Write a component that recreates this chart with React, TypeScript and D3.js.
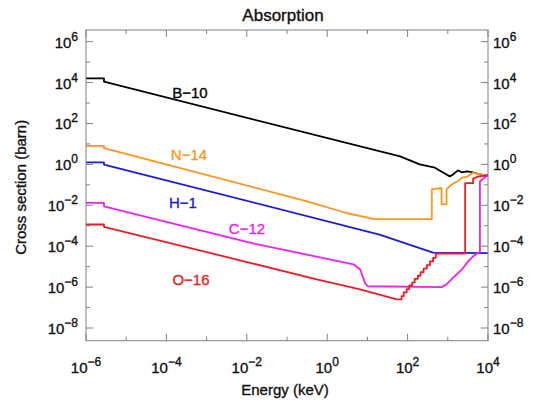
import React, { useEffect, useRef } from "react";
import * as d3 from "d3";

/** Absorption cross sections, [energy keV, sigma barn]. */
const boron10 = [
  [1e-6, 1.6e4], [2.8e-6, 1.6e4], [2.8e-6, 1.1e4], [65, 2.45], [200, 1.0],
  [480, 0.69], [760, 0.4], [1120, 0.26], [1350, 0.32], [1780, 0.51],
  [2240, 0.41], [3000, 0.46], [4270, 0.41], [6300, 0.32], [1e4, 0.27],
];
const nitrogen14 = [
  [1e-6, 8.1], [2.8e-6, 8.1], [2.8e-6, 6.3], [0.3, 1.6e-2], [3, 4.2e-3],
  [15, 2.1e-3], [400, 2.1e-3], [400, 6e-2], [700, 7e-2], [700, 1.1e-2],
  [930, 1.1e-2], [930, 6e-2], [1120, 8.7e-2], [1500, 0.13], [1780, 0.15],
  [2240, 0.22], [3160, 0.26], [4270, 0.4], [6300, 0.32], [1e4, 0.28],
];
const hydrogen1 = [
  [1e-6, 1.26], [2.8e-6, 1.26], [2.8e-6, 0.98], [20, 3.7e-4], [430, 4.8e-5],
  [1e4, 4.6e-5],
];
const carbon12 = [
  [1e-6, 1.32e-2], [2.8e-6, 1.32e-2], [2.8e-6, 8.9e-3], [1.2e-2, 1.48e-4],
  [4.5, 1.3e-5], [6.6, 7.4e-6], [8.7, 1.6e-6], [10.2, 1.1e-6], [700, 1e-6],
  [930, 1.35e-6], [1500, 3.5e-6], [2240, 7.2e-6], [3240, 1.86e-5],
  [4270, 3.2e-5], [5750, 4.8e-5], [6300, 5e-5], [6300, 0.15], [1e4, 0.3],
];
const oxygen16 = [
  [1e-6, 1.15e-3], [2.8e-6, 1.15e-3], [2.8e-6, 8.9e-4], [1.2e-2, 1.55e-5],
  [0.55, 2.4e-6], [6.6, 7.8e-7], [54, 2.5e-7], [71, 2.5e-7], [71, 3.6e-7],
  [80, 3.6e-7], [80, 5.5e-7], [95, 5.5e-7], [95, 8e-7], [110, 8e-7],
  [110, 1.2e-6], [130, 1.2e-6], [130, 1.7e-6], [150, 1.7e-6], [150, 2.5e-6],
  [180, 2.5e-6], [180, 3.6e-6], [210, 3.6e-6], [210, 5.4e-6], [250, 5.4e-6],
  [250, 8e-6], [300, 8e-6], [300, 1.2e-5], [360, 1.2e-5], [360, 1.8e-5],
  [430, 1.8e-5], [430, 2.7e-5], [500, 2.7e-5], [500, 4.4e-5], [2700, 4.4e-5],
  [2700, 0.12], [4270, 0.12], [4270, 0.2], [5600, 0.25], [1e4, 0.3],
];

const seriesNames = ["B−10", "N−14", "H−1", "C−12", "O−16"];
const seriesData = [boron10, nitrogen14, hydrogen1, carbon12, oxygen16];

/** Axis decades (exponents of ten). */
const xLabelExps = [-6, -4, -2, 0, 2, 4];
const yLabelExps = [6, 4, 2, 0, -2, -4, -6, -8];
const xDomain = [1e-6, 1e4];
const yDomain = [Math.pow(10, -8.62), Math.pow(10, 6.57)];

/** Style variables. */
const colors = ["#000000", "#ff951c", "#1a1ae6", "#ee22ee", "#ee1c24"];
const labelSpots = [
  [190, 98],
  [189, 160],
  [183, 208],
  [247, 234],
  [191, 285],
];
const fontFamily = "'Liberation Sans', Arial, Helvetica, sans-serif";

function drawChart(node) {
  const svg = d3.select(node);
  svg.selectAll("*").remove();

  const left = 86,
    right = 488,
    top = 30,
    bottom = 340.7;

  const x = d3.scaleLog().domain(xDomain).range([left, right]);
  const y = d3.scaleLog().domain(yDomain).range([bottom, top]);

  svg.append("rect").attr("width", 534).attr("height", 405).attr("fill", "#fff");

  // Clip the curves to the frame
  svg
    .append("clipPath")
    .attr("id", "plot-clip")
    .append("rect")
    .attr("x", left)
    .attr("y", top)
    .attr("width", right - left)
    .attr("height", bottom - top);

  const frameColor = "#808080";

  // Ticks on all four sides, pointing inwards
  const ticks = svg.append("g").attr("stroke", frameColor).attr("stroke-width", 1);
  d3.range(-6, 5).forEach((e) => {
    const px = x(Math.pow(10, e));
    const len = e % 2 === 0 ? 7 : 4;
    ticks.append("line").attr("x1", px).attr("x2", px).attr("y1", bottom).attr("y2", bottom - len);
    ticks.append("line").attr("x1", px).attr("x2", px).attr("y1", top).attr("y2", top + len);
  });
  d3.range(-8, 7).forEach((e) => {
    const py = y(Math.pow(10, e));
    const len = e % 2 === 0 ? 7 : 4;
    ticks.append("line").attr("x1", left).attr("x2", left + len).attr("y1", py).attr("y2", py);
    ticks.append("line").attr("x1", right).attr("x2", right - len).attr("y1", py).attr("y2", py);
  });

  // Curves
  const line = d3
    .line()
    .x((d) => x(d[0]))
    .y((d) => y(d[1]));

  const curves = svg.append("g").attr("clip-path", "url(#plot-clip)");
  seriesData.forEach((pts, i) => {
    curves
      .append("path")
      .attr("d", line(pts))
      .attr("fill", "none")
      .attr("stroke", colors[i])
      .attr("stroke-width", 1.8)
      .attr("stroke-linejoin", "round");
  });

  // Frame
  svg
    .append("rect")
    .attr("x", left)
    .attr("y", top)
    .attr("width", right - left)
    .attr("height", bottom - top)
    .attr("fill", "none")
    .attr("stroke", frameColor)
    .attr("stroke-width", 1);

  const ink = "#111";
  const text = svg
    .append("g")
    .attr("font-family", fontFamily)
    .attr("fill", ink)
    .attr("stroke", ink)
    .attr("stroke-width", 0.35);

  const power = (sel, e) => {
    sel.append("tspan").text("10");
    sel
      .append("tspan")
      .attr("dy", -7)
      .attr("font-size", 12)
      .text(String(e).replace("-", "−"));
  };

  // x tick labels
  xLabelExps.forEach((e) => {
    const t = text
      .append("text")
      .attr("x", x(Math.pow(10, e)))
      .attr("y", 373)
      .attr("text-anchor", "middle")
      .attr("font-size", 15);
    power(t, e);
  });

  // y tick labels, left and right
  yLabelExps.forEach((e) => {
    const py = y(Math.pow(10, e));
    const l = text
      .append("text")
      .attr("x", left - 8)
      .attr("y", py + 6)
      .attr("text-anchor", "end")
      .attr("font-size", 15);
    power(l, e);
    const r = text
      .append("text")
      .attr("x", right + 5)
      .attr("y", py + 6)
      .attr("font-size", 15);
    power(r, e);
  });

  // Title and axis titles
  text
    .append("text")
    .attr("x", (left + right) / 2 - 4)
    .attr("y", 21)
    .attr("text-anchor", "middle")
    .attr("font-size", 17)
    .text("Absorption");

  text
    .append("text")
    .attr("x", (left + right) / 2 - 2)
    .attr("y", 395)
    .attr("text-anchor", "middle")
    .attr("font-size", 15)
    .text("Energy (keV)");

  text
    .append("text")
    .attr("transform", `translate(26, ${(top + bottom) / 2 + 2}) rotate(-90)`)
    .attr("text-anchor", "middle")
    .attr("font-size", 15)
    .text("Cross section (barn)");

  // Curve names
  seriesNames.forEach((name, i) => {
    text
      .append("text")
      .attr("x", labelSpots[i][0])
      .attr("y", labelSpots[i][1])
      .attr("text-anchor", "middle")
      .attr("font-size", 15)
      .attr("fill", colors[i])
      .attr("stroke", colors[i])
      .text(name);
  });
}

export default function App() {
  const ref = useRef(null);

  useEffect(() => {
    drawChart(ref.current);
  }, []);

  return (
    <svg
      ref={ref}
      width={534}
      height={405}
      style={{ position: "absolute", left: 0, top: 0, display: "block" }}
    />
  );
}
